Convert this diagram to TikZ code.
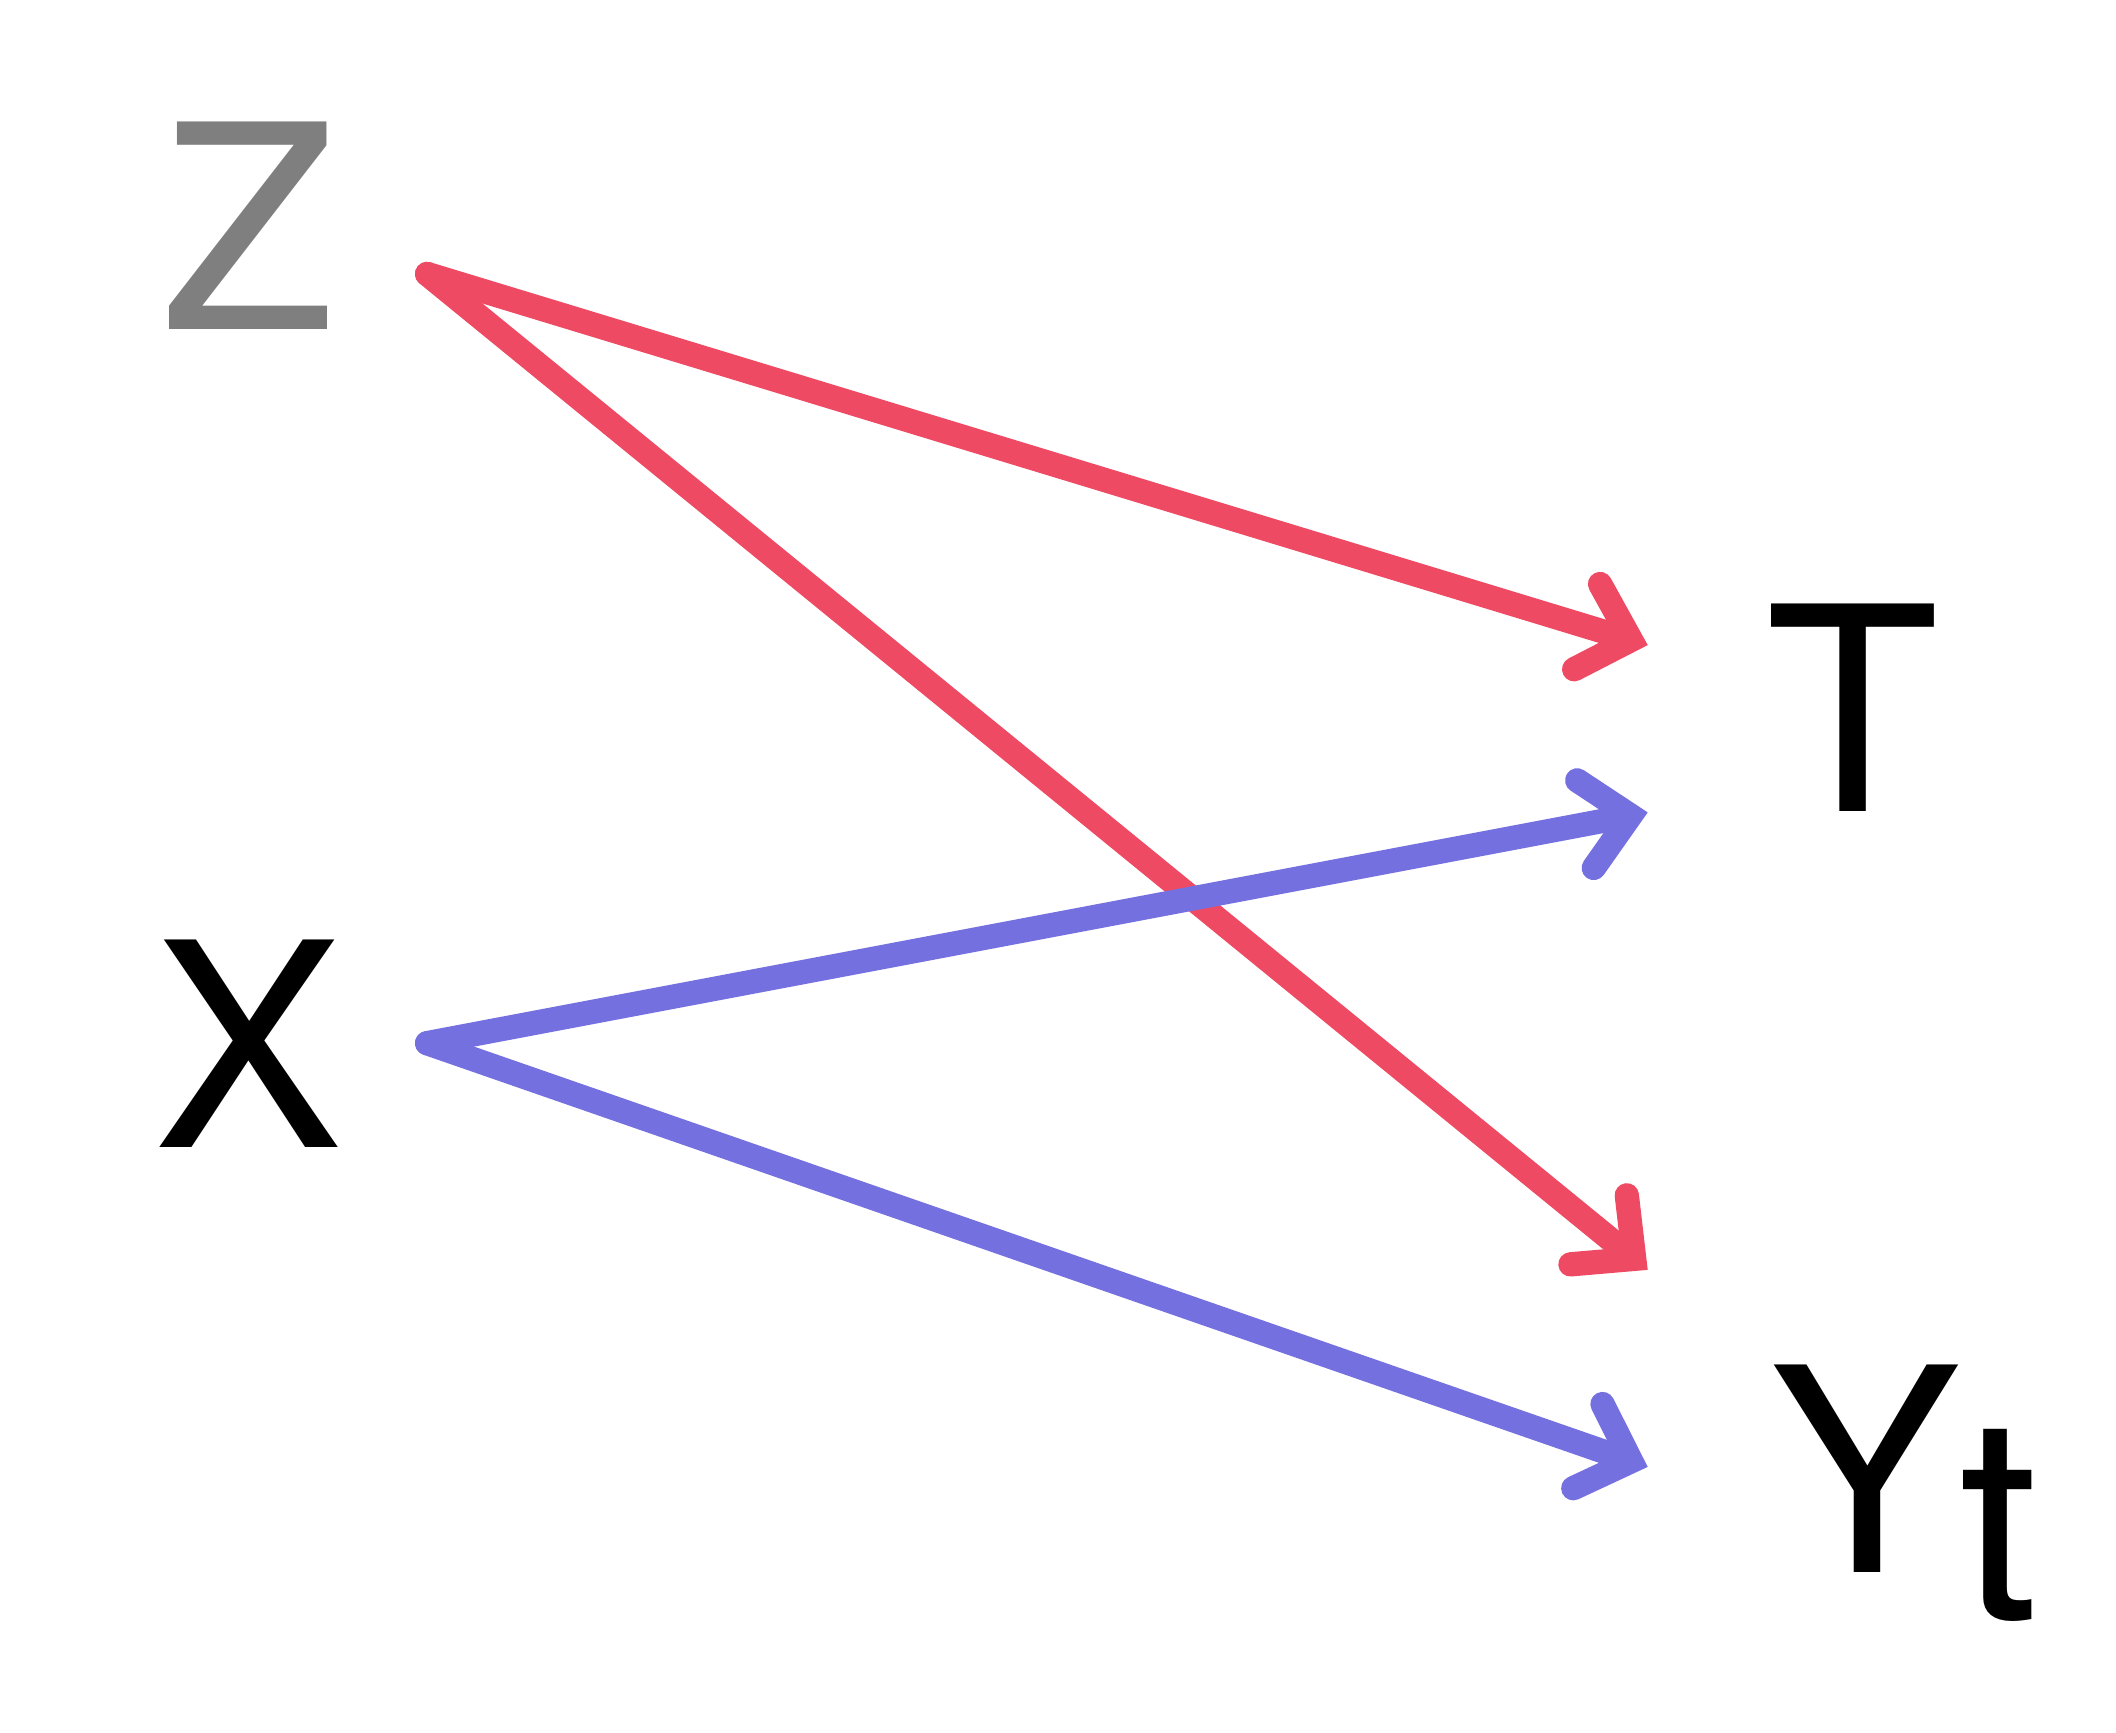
\documentclass[tikz,border=0pt]{standalone}
\usepackage{fontspec}
\setmainfont{TeX Gyre Heros}
\usetikzlibrary{arrows.meta}
\definecolor{redc}{HTML}{EF4A64}
\definecolor{bluec}{HTML}{7570E0}
\definecolor{grayc}{HTML}{7F7F7F}
\tikzset{
  lbl/.style={anchor=base west, inner sep=0pt, outer sep=0pt, font=\fontsize{60}{60}\selectfont},
  conn/.style={line width=0.18cm, line cap=round,
    -{Straight Barb[length=0.34cm, width=0.66cm, line cap=round, line join=miter]}},
  redarr/.style={conn, draw=redc},
  bluearr/.style={conn, draw=bluec}
}
\begin{document}
\begin{tikzpicture}[x=0.01cm, y=-0.01cm]
\useasboundingbox[fill=white] (0,0) rectangle (1568,1284);
\node[lbl, text=grayc] (Z) at (120,244) {Z};
\node[lbl] (X) at (114,850) {X};
\node[lbl] (T) at (1308,601) {T};
\node[lbl] (Y) at (1312,1165) {Y\kern-0.3pt\raisebox{-10pt}{t}};
\coordinate (zs) at (316.5,203);
\coordinate (xs) at (316.5,773);
\coordinate (zt) at (1221,478);
\coordinate (zy) at (1221,941);
\coordinate (xt) at (1221,602);
\coordinate (xy) at (1221,1087);
\draw[redarr] (zs) -- (zt);
\draw[redarr] (zs) -- (zy);
\draw[bluearr] (xs) -- (xt);
\draw[bluearr] (xs) -- (xy);
\end{tikzpicture}
\end{document}
